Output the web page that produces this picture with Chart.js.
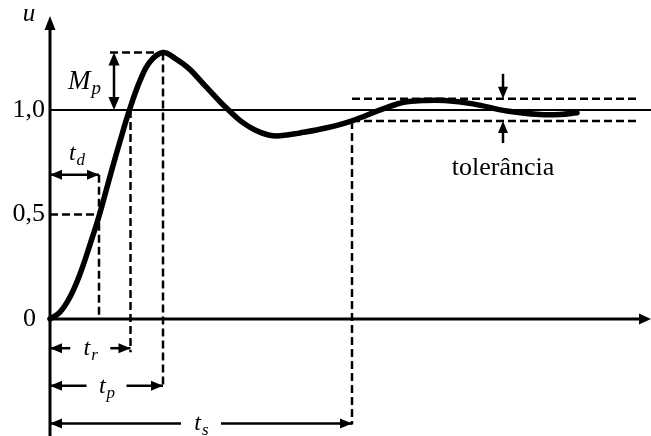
<!DOCTYPE html>
<html>
<head>
<meta charset="utf-8">
<script src="https://cdn.jsdelivr.net/npm/chart.js@4.4.0/dist/chart.umd.min.js"></script>
<style>
body { margin: 0; background: #fff; }
</style>
</head>
<body>
<canvas id="resposta" width="651" height="436"></canvas>
<script>
// Resposta ao degrau
var tempo    = [0, 0.2, 0.4, 0.6, 0.8, 0.99, 1.2, 1.4, 1.59, 1.8, 2.0, 2.26, 2.5, 2.77, 3.1, 3.43, 3.57, 3.83, 4.1, 4.37, 4.6, 5.0, 5.54, 6.04, 6.66, 7.1, 7.46, 7.9, 8.46, 9.14, 9.8, 10.2, 10.54];
var resposta = [0, 0.033, 0.105, 0.215, 0.356, 0.5, 0.682, 0.85, 1.0, 1.14, 1.231, 1.275, 1.247, 1.2, 1.116, 1.032, 1.0, 0.944, 0.904, 0.88, 0.876, 0.89, 0.915, 0.948, 1.005, 1.038, 1.045, 1.045, 1.029, 0.995, 0.978, 0.978, 0.986];

// Tempos caracteristicos
var tempoAtraso = 0.98;
var tempoSubida = 1.61;
var tempoPico = 2.26;
var tempoAcomodacao = 6.04;
var valorPico = 1.275;
var tolerancia = 0.053;

var yTicks = [0, 0.5, 1.0];
var yTickLabels = ['0', '0,5', '1,0'];

var serif = '"Liberation Serif", "Times New Roman", serif';

function ponta(ctx, x, y, ang, len, larg) {
  ctx.save();
  ctx.translate(x, y);
  ctx.rotate(ang);
  ctx.beginPath();
  ctx.moveTo(0, 0);
  ctx.lineTo(-len, -larg / 2);
  ctx.lineTo(-len, larg / 2);
  ctx.closePath();
  ctx.fill();
  ctx.restore();
}

function linha(ctx, x1, y1, x2, y2, larg, tracejada) {
  ctx.save();
  ctx.lineWidth = larg;
  ctx.setLineDash(tracejada ? [8, 4] : []);
  ctx.beginPath();
  ctx.moveTo(x1, y1);
  ctx.lineTo(x2, y2);
  ctx.stroke();
  ctx.restore();
}

function rotulo(ctx, base, sub, cx, y, tam) {
  tam = tam || 24;
  var tamSub = Math.round(tam * 0.72);
  ctx.font = 'italic ' + tam + 'px ' + serif;
  var w1 = ctx.measureText(base).width;
  ctx.font = 'italic ' + tamSub + 'px ' + serif;
  var w2 = ctx.measureText(sub).width;
  var x = cx - (w1 + w2) / 2;
  ctx.textAlign = 'left';
  ctx.textBaseline = 'alphabetic';
  ctx.font = 'italic ' + tam + 'px ' + serif;
  ctx.fillText(base, x, y);
  ctx.font = 'italic ' + tamSub + 'px ' + serif;
  ctx.fillText(sub, x + w1 + 1, y + 5);
}

// seta dupla horizontal com o rotulo no meio
function cota(ctx, x1, x2, y, base, sub) {
  var meio = (x1 + x2) / 2, folga = 20;
  linha(ctx, x1, y, meio - folga, y, 2.5);
  linha(ctx, meio + folga, y, x2, y, 2.5);
  ponta(ctx, x1, y, Math.PI, 12, 10);
  ponta(ctx, x2, y, 0, 12, 10);
  rotulo(ctx, base, sub, meio, y + 7);
}

var anotacoes = {
  id: 'anotacoes',
  beforeDatasetsDraw: function (chart) {
    var ctx = chart.ctx;
    var xs = chart.scales.x, ys = chart.scales.y;
    var x0 = xs.getPixelForValue(0), y0 = ys.getPixelForValue(0);
    var y1 = ys.getPixelForValue(1);
    var xMax = chart.width;
    ctx.save();
    ctx.fillStyle = '#000';
    ctx.strokeStyle = '#000';

    // eixos
    linha(ctx, x0, chart.height, x0, 28, 3);
    ponta(ctx, x0, 16, -Math.PI / 2, 14, 11);
    linha(ctx, x0, y0, xMax - 12, y0, 3);
    ponta(ctx, xMax, y0, 0, 12, 11);
    linha(ctx, x0, y1, xMax, y1, 2);

    // rotulos do eixo y
    ctx.font = '26px ' + serif;
    ctx.textAlign = 'right';
    ctx.textBaseline = 'alphabetic';
    yTicks.forEach(function (v, i) {
      var px = v === 0 ? x0 - 14 : x0 - 5;
      ctx.fillText(yTickLabels[i], px, ys.getPixelForValue(v) + 7);
    });
    ctx.font = 'italic 25px ' + serif;
    ctx.textAlign = 'center';
    ctx.fillText('u', x0 - 21, 21);

    // sobressinal
    var xP = xs.getPixelForValue(tempoPico), yP = ys.getPixelForValue(valorPico);
    var xM = xs.getPixelForValue(1.28);
    linha(ctx, xs.getPixelForValue(1.2), yP, xP, yP, 2.5, true);
    linha(ctx, xM, yP + 10, xM, y1 - 10, 2.5);
    ponta(ctx, xM, yP, -Math.PI / 2, 13, 11);
    ponta(ctx, xM, y1, Math.PI / 2, 13, 11);
    rotulo(ctx, 'M', 'p', xM - 30, (yP + y1) / 2 + 8, 27);

    // tempo de atraso
    var xD = xs.getPixelForValue(tempoAtraso), yMeio = ys.getPixelForValue(0.5);
    var yDc = ys.getPixelForValue(0.69);
    linha(ctx, x0, yMeio, xD, yMeio, 2.5, true);
    linha(ctx, xD, yDc, xD, y0, 2.5, true);
    linha(ctx, x0, yDc, xD, yDc, 2.5);
    ponta(ctx, x0, yDc, Math.PI, 12, 10);
    ponta(ctx, xD, yDc, 0, 12, 10);
    rotulo(ctx, 't', 'd', (x0 + xD) / 2 + 2, yDc - 15);

    // tempo de subida, de pico e de acomodacao
    var xR = xs.getPixelForValue(tempoSubida);
    var xS = xs.getPixelForValue(tempoAcomodacao);
    var yR = ys.getPixelForValue(-0.14), yPk = ys.getPixelForValue(-0.32), yS = ys.getPixelForValue(-0.5);
    linha(ctx, xR, y1, xR, yR + 4, 2.5, true);
    linha(ctx, xP, yP, xP, yPk + 2, 2.5, true);
    var yBaixo = ys.getPixelForValue(1 - tolerancia);
    var yCima = ys.getPixelForValue(1 + tolerancia);
    linha(ctx, xS, yBaixo, xS, yS + 1, 2.5, true);
    cota(ctx, x0, xR, yR, 't', 'r');
    cota(ctx, x0, xP, yPk, 't', 'p');
    cota(ctx, x0, xS, yS, 't', 's');

    // faixa de tolerancia
    var xFim = xs.getPixelForValue(11.8);
    linha(ctx, xS, yCima, xFim, yCima, 2.5, true);
    linha(ctx, xS, yBaixo, xFim, yBaixo, 2.5, true);
    var xT = xs.getPixelForValue(9.06);
    linha(ctx, xT, yCima - 25, xT, yCima - 8, 2.5);
    ponta(ctx, xT, yCima, Math.PI / 2, 12, 10);
    linha(ctx, xT, yBaixo + 8, xT, yBaixo + 22, 2.5);
    ponta(ctx, xT, yBaixo, -Math.PI / 2, 12, 10);
    ctx.font = '26px ' + serif;
    ctx.textAlign = 'center';
    ctx.textBaseline = 'alphabetic';
    ctx.fillText('tolerância', xT, yBaixo + 54);

    ctx.restore();
  }
};

new Chart(document.getElementById('resposta').getContext('2d'), {
  type: 'line',
  data: {
    datasets: [{
      data: tempo.map(function (t, i) { return { x: t, y: resposta[i] }; }),
      borderColor: '#000',
      borderWidth: 5.5,
      pointRadius: 0,
      tension: 0.4,
      borderCapStyle: 'round',
      fill: false,
      clip: false
    }]
  },
  options: {
    responsive: false,
    animation: false,
    layout: { padding: { left: 50, right: 1, top: 0, bottom: 0 } },
    plugins: { legend: { display: false }, tooltip: { enabled: false } },
    scales: {
      x: { type: 'linear', min: 0, max: 12, display: false },
      y: { type: 'linear', min: -0.56, max: 1.526, display: false }
    }
  },
  plugins: [anotacoes]
});
</script>
</body>
</html>
